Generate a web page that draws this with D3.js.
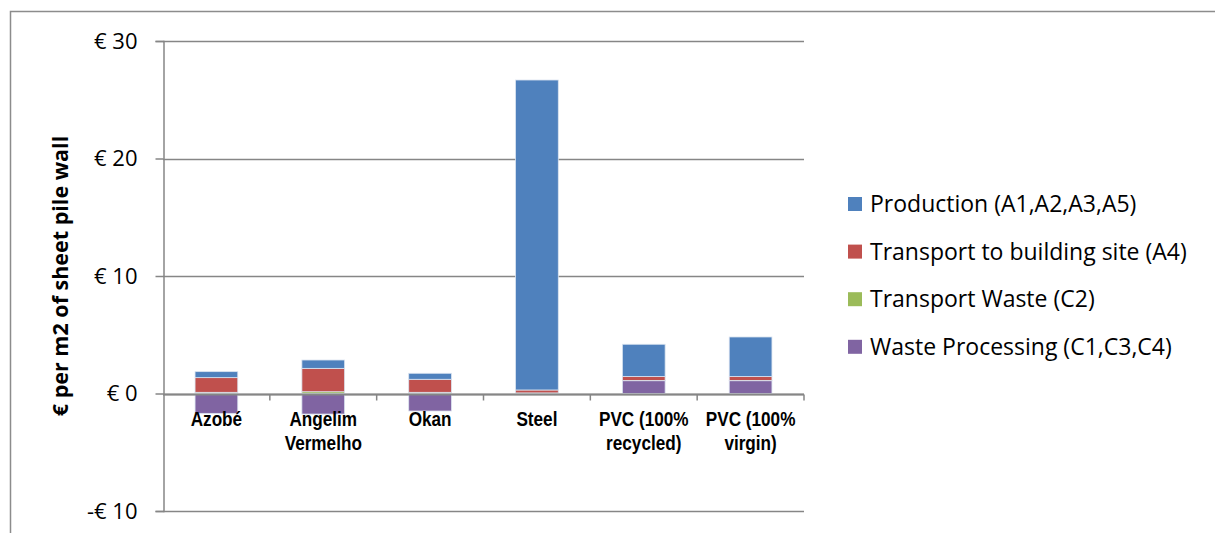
<!DOCTYPE html>
<html>
<head>
<meta charset="utf-8">
<script src="https://cdn.jsdelivr.net/npm/d3@7"></script>
<style>
  html, body { margin: 0; padding: 0; background: #fff; }
  svg { display: block; }
  .tick-label { font-family: "Open Sans", "Noto Sans", sans-serif; font-size: 22px; fill: #000; }
  .cat-label { font-family: "Liberation Sans", Arial, sans-serif; font-weight: bold; font-size: 19.5px; fill: #000; }
  .legend-label { font-family: "Open Sans", "Noto Sans", sans-serif; font-size: 23px; fill: #000; }
  .y-title { font-family: "Open Sans", "Noto Sans", sans-serif; font-weight: bold; font-size: 21.5px; fill: #000; }
</style>
</head>
<body>
<svg id="chart" width="1215" height="533"></svg>
<script>
// Categories (sheet pile wall materials); "\n" splits a label over two lines
const categories = ["Azobé", "Angelim\nVermelho", "Okan", "Steel", "PVC (100%\nrecycled)", "PVC (100%\nvirgin)"];

// Cost per m2 of sheet pile wall, by life-cycle stage (€)
const production      = [0.51, 0.71, 0.51, 26.38, 2.74, 3.36];
const transportSite   = [1.25, 1.99, 1.11, 0.25, 0.34, 0.34];
const transportWaste  = [0.10, 0.15, 0.10, 0.05, 0.02, 0.02];
const wasteProcessing = [-1.69, -1.75, -1.49, -0.02, 1.09, 1.09];

const seriesNames = ["Production (A1,A2,A3,A5)", "Transport to building site (A4)", "Transport Waste (C2)", "Waste Processing (C1,C3,C4)"];
const seriesColors = ["#4F81BD", "#C0504D", "#9BBB59", "#8064A2"];

const yTicks = [-10, 0, 10, 20, 30];

// Stack order from the baseline outward: waste processing first, production last
const stackOrder = [
  { name: seriesNames[3], color: seriesColors[3], values: wasteProcessing },
  { name: seriesNames[2], color: seriesColors[2], values: transportWaste },
  { name: seriesNames[1], color: seriesColors[1], values: transportSite },
  { name: seriesNames[0], color: seriesColors[0], values: production }
];

const svg = d3.select("#chart");

// Outer chart-area frame
svg.append("rect")
  .attr("x", 10.5).attr("y", 11.5)
  .attr("width", 1300).attr("height", 600)
  .attr("fill", "none").attr("stroke", "#8c8c8c").attr("stroke-width", 1.5);

const plot = { left: 163, right: 804, top: 41, bottom: 511 };

const x = d3.scaleBand()
  .domain(categories)
  .range([plot.left, plot.right])
  .paddingInner(0.6).paddingOuter(0.3);

const y = d3.scaleLinear().domain([-10, 30]).range([plot.bottom, plot.top]);

const gridColor = "#868686";

// Horizontal gridlines
svg.append("g")
  .selectAll("line")
  .data(yTicks)
  .join("line")
  .attr("x1", plot.left).attr("x2", plot.right)
  .attr("y1", d => Math.round(y(d)) + 0.5).attr("y2", d => Math.round(y(d)) + 0.5)
  .attr("stroke", gridColor).attr("stroke-width", 1.5);

// Y axis with outward ticks and euro labels
const yAxis = d3.axisLeft(y)
  .tickValues(yTicks)
  .tickSize(8)
  .tickPadding(18)
  .tickFormat(d => (d < 0 ? "-€ " + Math.abs(d) : "€ " + d));

const gy = svg.append("g")
  .attr("transform", `translate(${plot.left + 0.5},0)`)
  .call(yAxis);
gy.select(".domain").attr("stroke", gridColor).attr("stroke-width", 1.5);
gy.selectAll(".tick line").attr("stroke", gridColor).attr("stroke-width", 1.5);
gy.selectAll(".tick text").attr("class", "tick-label");
gy.attr("font-size", null).attr("font-family", null);

// Stacked segments: positives grow upward from zero, negatives downward
const stacked = categories.map((c, i) => {
  let pos = 0, neg = 0;
  return stackOrder.map(s => {
    const v = s.values[i];
    let y0, y1;
    if (v >= 0) { y0 = pos; y1 = pos + v; pos = y1; }
    else { y0 = neg; y1 = neg + v; neg = y1; }
    return { cat: c, y0, y1, color: s.color };
  });
}).flat();

svg.append("g")
  .selectAll("rect")
  .data(stacked)
  .join("rect")
  .attr("x", d => x(d.cat))
  .attr("width", x.bandwidth())
  .attr("y", d => y(Math.max(d.y0, d.y1)))
  .attr("height", d => Math.abs(y(d.y0) - y(d.y1)))
  .attr("fill", d => d.color)
  .attr("stroke", "#dbe4f0").attr("stroke-width", 0.8);

// Category axis along zero, with tick marks at band boundaries
const zeroY = Math.round(y(0)) + 0.5;
svg.append("line")
  .attr("x1", plot.left).attr("x2", plot.right)
  .attr("y1", zeroY).attr("y2", zeroY)
  .attr("stroke", gridColor).attr("stroke-width", 2);

const step = (plot.right - plot.left) / categories.length;
svg.append("g")
  .selectAll("line")
  .data(d3.range(1, categories.length + 1))
  .join("line")
  .attr("x1", i => plot.left + i * step).attr("x2", i => plot.left + i * step)
  .attr("y1", zeroY).attr("y2", zeroY + 6)
  .attr("stroke", gridColor).attr("stroke-width", 1.5);

// Category labels just beneath the zero line, horizontally condensed
const narrow = 0.88;
svg.append("g")
  .selectAll("text")
  .data(categories)
  .join("text")
  .attr("class", "cat-label")
  .attr("text-anchor", "middle")
  .attr("transform", d => `translate(${x(d) + x.bandwidth() / 2},426) scale(${narrow},1)`)
  .each(function(d) {
    d3.select(this).selectAll("tspan")
      .data(d.split("\n"))
      .join("tspan")
      .attr("x", 0)
      .attr("dy", (l, j) => j === 0 ? 0 : 24)
      .text(l => l);
  });

// Y-axis title
svg.append("text")
  .attr("class", "y-title")
  .attr("text-anchor", "middle")
  .attr("transform", `translate(68,276) rotate(-90)`)
  .text("€ per m2 of sheet pile wall");

// Legend
const legend = svg.append("g")
  .selectAll("g")
  .data(seriesNames)
  .join("g")
  .attr("transform", (d, i) => `translate(848,${204 + i * 47.6})`);
legend.append("rect")
  .attr("x", 0).attr("y", -7)
  .attr("width", 14).attr("height", 14)
  .attr("fill", (d, i) => seriesColors[i]);
legend.append("text")
  .attr("class", "legend-label")
  .attr("x", 22).attr("y", 0)
  .attr("dy", "0.35em")
  .text(d => d);
</script>
</body>
</html>
